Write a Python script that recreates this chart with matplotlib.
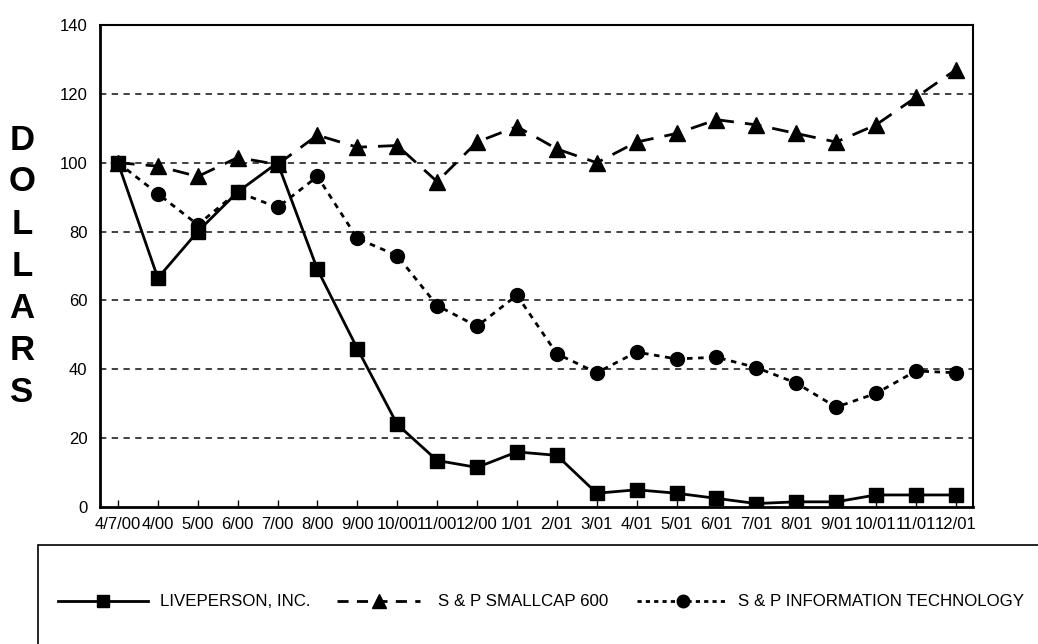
import matplotlib
matplotlib.use("Agg")
import matplotlib.pyplot as plt
from matplotlib.lines import Line2D
from matplotlib.patches import Rectangle

labels = ["4/7/00", "4/00", "5/00", "6/00", "7/00", "8/00", "9/00", "10/00", "11/00", "12/00",
          "1/01", "2/01", "3/01", "4/01", "5/01", "6/01", "7/01", "8/01", "9/01", "10/01", "11/01", "12/01"]
liveperson = [100, 66.5, 80, 91.5, 100, 69, 46, 24, 13.5, 11.5, 16, 15, 4, 5, 4, 2.5, 1, 1.5, 1.5, 3.5, 3.5, 3.5]
smallcap = [100, 99, 96, 101.5, 99.5, 108, 104.5, 105, 94.5, 106, 110.5, 104, 100, 106, 108.5, 112.5,
            111, 108.5, 106, 111, 119, 127]
infotech = [100, 91, 82, 91.5, 87, 96, 78, 73, 58.5, 52.5, 61.5, 44.5, 39, 45, 43, 43.5, 40.5, 36, 29,
            33, 39.5, 39]
yticks = [0, 20, 40, 60, 80, 100, 120, 140]
series_names = ["LIVEPERSON, INC.", "S & P SMALLCAP 600", "S & P INFORMATION TECHNOLOGY"]

plt.rcParams['font.family'] = ['Liberation Sans', 'DejaVu Sans']

W, H = 1038, 644
fig = plt.figure(figsize=(W/100, H/100), dpi=100)
ax = fig.add_axes([100/W, 1-507/H, (973-100)/W, (507-25)/H])

x = list(range(len(labels)))
for yv in yticks[1:-1]:
    ax.axhline(yv, color='#333333', lw=1.3, linestyle=(0, (3.5, 3)), zorder=1)

styles = [
    dict(linestyle='-', marker='s', markersize=10),
    dict(linestyle=(0, (6, 4)), marker='^', markersize=11),
    dict(linestyle=(0, (2, 2)), marker='o', markersize=10),
]
for vals, st in zip([liveperson, smallcap, infotech], styles):
    ax.plot(x, vals, color='black', lw=2, zorder=3, **st)

ax.set_xlim(-0.45, 21.43)
ax.set_ylim(0, 140)
ax.set_yticks(yticks)
ax.set_xticks(x)
ax.set_xticklabels(labels)
ax.tick_params(axis='x', direction='in', length=5, width=1, labelsize=12, pad=7)
ax.tick_params(axis='y', length=0, labelsize=12, pad=9)
for s in ['left', 'bottom']:
    ax.spines[s].set_linewidth(2)
for s in ['top', 'right']:
    ax.spines[s].set_linewidth(1.5)

# vertical stacked y-label
for i, ch in enumerate("DOLLARS"):
    fig.text(22/W, 1-(140 + i*42)/H, ch, fontsize=25, fontweight='bold',
             ha='center', va='center')

# legend box
fig.patches.append(Rectangle((38/W, -0.05), 1.1, (1-545/H)+0.05, transform=fig.transFigure,
                             fill=False, edgecolor='black', lw=1.2))
ly = 1-601/H
leg_lines = [(58, 148), (337, 420), (637, 728)]
leg_text_x = [160, 438, 738]
leg_styles = [
    dict(linestyle='-', marker='s', markersize=9),
    dict(linestyle=(0, (4, 3)), marker='^', markersize=10),
    dict(linestyle=(0, (1.5, 1.5)), marker='o', markersize=9),
]
for (x0, x1), tx, name, st in zip(leg_lines, leg_text_x, series_names, leg_styles):
    fig.add_artist(Line2D([x0/W, x1/W], [ly, ly], transform=fig.transFigure, color='black', lw=2,
                          linestyle=st['linestyle']))
    fig.add_artist(Line2D([(x0+x1)/2/W], [ly], transform=fig.transFigure, color='black',
                          marker=st['marker'], markersize=st['markersize'], linestyle='none'))
    fig.text(tx/W, ly, name, fontsize=12.2, ha='left', va='center')

fig.savefig("out.png", dpi=100)
